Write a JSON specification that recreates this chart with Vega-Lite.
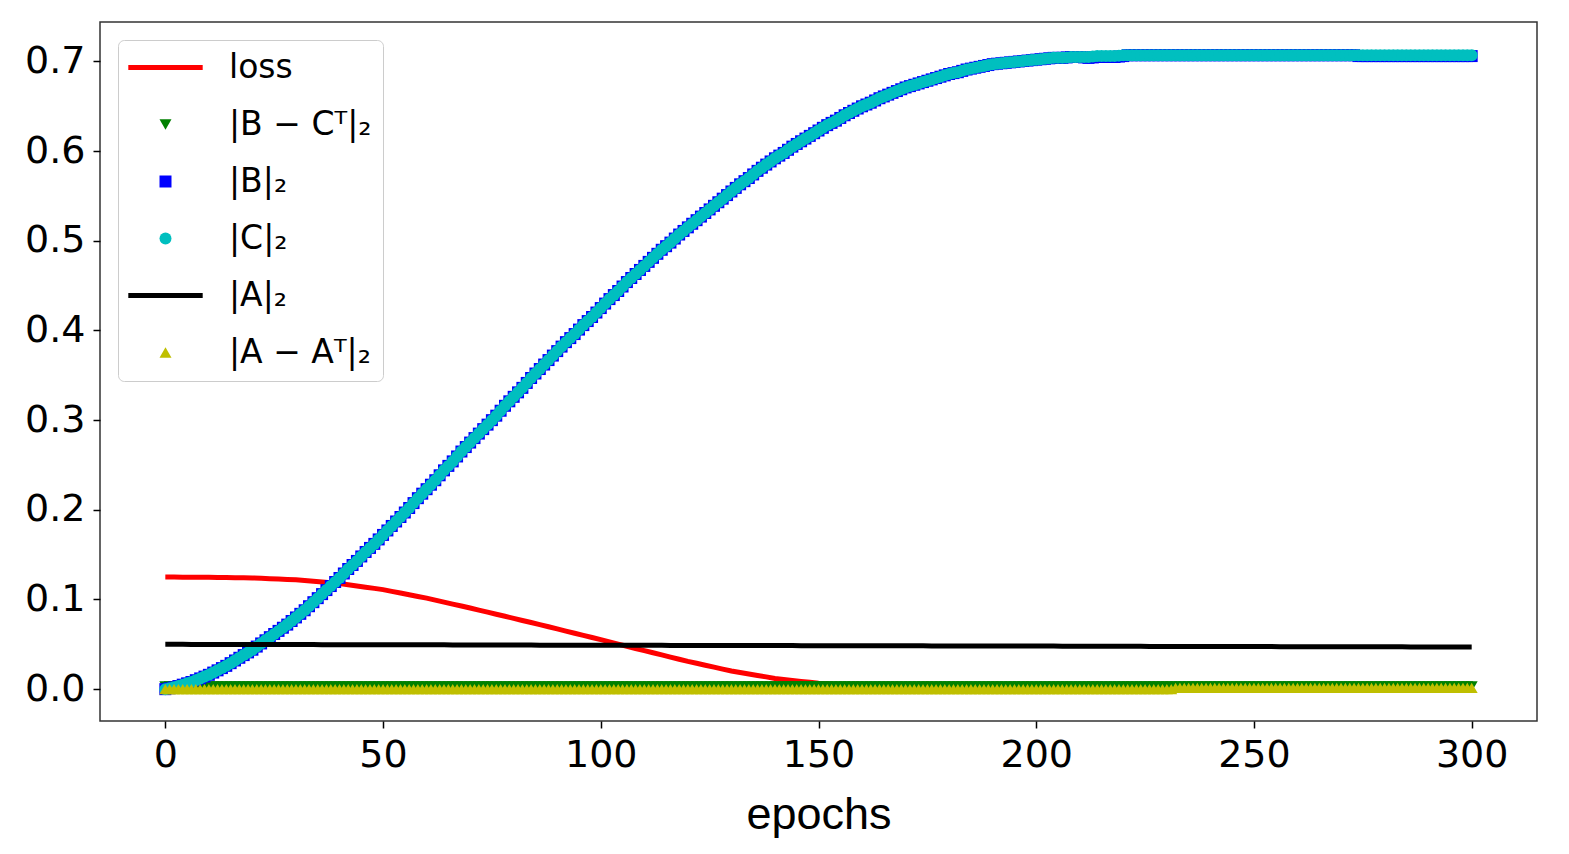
{
  "$schema": "https://vega.github.io/schema/vega-lite/v6.json",
  "width": 1437,
  "height": 699,
  "autosize": "none",
  "padding": {"left": 100, "top": 22, "right": 32, "bottom": 133},
  "config": {
    "view": {"stroke": "#333333", "strokeWidth": 1.5},
    "axis": {
      "grid": false,
      "domain": false,
      "labelFont": "DejaVu Sans",
      "labelFontSize": 38,
      "labelColor": "#000000",
      "tickColor": "#000000",
      "tickSize": 7,
      "tickWidth": 1.5,
      "labelPadding": 8
    },
    "legend": {
      "orient": "top-left",
      "offset": 18,
      "fillColor": "#ffffff",
      "strokeColor": "#cccccc",
      "cornerRadius": 6,
      "padding": 11,
      "labelFont": "DejaVu Sans",
      "labelFontSize": 33,
      "labelColor": "#000000",
      "symbolSize": 144,
      "symbolOffset": 20,
      "labelOffset": 47,
      "rowPadding": 23,
      "symbolStrokeWidth": 0,
      "symbolOpacity": 1
    }
  },
  "datasets": {
    "lines": [
      {"epoch": 0, "loss": 0.125, "norm_a": 0.05},
      {"epoch": 2, "loss": 0.125, "norm_a": 0.05},
      {"epoch": 4, "loss": 0.1249, "norm_a": 0.05},
      {"epoch": 6, "loss": 0.1249, "norm_a": 0.0499},
      {"epoch": 8, "loss": 0.1248, "norm_a": 0.0499},
      {"epoch": 10, "loss": 0.1248, "norm_a": 0.0499},
      {"epoch": 12, "loss": 0.1246, "norm_a": 0.0499},
      {"epoch": 14, "loss": 0.1245, "norm_a": 0.0499},
      {"epoch": 16, "loss": 0.1243, "norm_a": 0.0498},
      {"epoch": 18, "loss": 0.1242, "norm_a": 0.0498},
      {"epoch": 20, "loss": 0.124, "norm_a": 0.0498},
      {"epoch": 22, "loss": 0.1236, "norm_a": 0.0498},
      {"epoch": 24, "loss": 0.1232, "norm_a": 0.0498},
      {"epoch": 26, "loss": 0.1228, "norm_a": 0.0497},
      {"epoch": 28, "loss": 0.1224, "norm_a": 0.0497},
      {"epoch": 30, "loss": 0.122, "norm_a": 0.0497},
      {"epoch": 32, "loss": 0.1212, "norm_a": 0.0497},
      {"epoch": 34, "loss": 0.1203, "norm_a": 0.0497},
      {"epoch": 36, "loss": 0.1195, "norm_a": 0.0496},
      {"epoch": 38, "loss": 0.1186, "norm_a": 0.0496},
      {"epoch": 40, "loss": 0.1178, "norm_a": 0.0496},
      {"epoch": 42, "loss": 0.1164, "norm_a": 0.0496},
      {"epoch": 44, "loss": 0.1151, "norm_a": 0.0496},
      {"epoch": 46, "loss": 0.1137, "norm_a": 0.0495},
      {"epoch": 48, "loss": 0.1124, "norm_a": 0.0495},
      {"epoch": 50, "loss": 0.111, "norm_a": 0.0495},
      {"epoch": 52, "loss": 0.1091, "norm_a": 0.0495},
      {"epoch": 54, "loss": 0.1072, "norm_a": 0.0495},
      {"epoch": 56, "loss": 0.1053, "norm_a": 0.0494},
      {"epoch": 58, "loss": 0.1034, "norm_a": 0.0494},
      {"epoch": 60, "loss": 0.1015, "norm_a": 0.0494},
      {"epoch": 62, "loss": 0.0993, "norm_a": 0.0494},
      {"epoch": 64, "loss": 0.0971, "norm_a": 0.0494},
      {"epoch": 66, "loss": 0.0949, "norm_a": 0.0493},
      {"epoch": 68, "loss": 0.0927, "norm_a": 0.0493},
      {"epoch": 70, "loss": 0.0905, "norm_a": 0.0493},
      {"epoch": 72, "loss": 0.0882, "norm_a": 0.0493},
      {"epoch": 74, "loss": 0.0859, "norm_a": 0.0493},
      {"epoch": 76, "loss": 0.0836, "norm_a": 0.0492},
      {"epoch": 78, "loss": 0.0813, "norm_a": 0.0492},
      {"epoch": 80, "loss": 0.079, "norm_a": 0.0492},
      {"epoch": 82, "loss": 0.0766, "norm_a": 0.0492},
      {"epoch": 84, "loss": 0.0743, "norm_a": 0.0492},
      {"epoch": 86, "loss": 0.0719, "norm_a": 0.0491},
      {"epoch": 88, "loss": 0.0696, "norm_a": 0.0491},
      {"epoch": 90, "loss": 0.0672, "norm_a": 0.0491},
      {"epoch": 92, "loss": 0.0648, "norm_a": 0.0491},
      {"epoch": 94, "loss": 0.0624, "norm_a": 0.0491},
      {"epoch": 96, "loss": 0.06, "norm_a": 0.049},
      {"epoch": 98, "loss": 0.0576, "norm_a": 0.049},
      {"epoch": 100, "loss": 0.0552, "norm_a": 0.049},
      {"epoch": 102, "loss": 0.0528, "norm_a": 0.049},
      {"epoch": 104, "loss": 0.0503, "norm_a": 0.049},
      {"epoch": 106, "loss": 0.0479, "norm_a": 0.0489},
      {"epoch": 108, "loss": 0.0454, "norm_a": 0.0489},
      {"epoch": 110, "loss": 0.043, "norm_a": 0.0489},
      {"epoch": 112, "loss": 0.0406, "norm_a": 0.0489},
      {"epoch": 114, "loss": 0.0382, "norm_a": 0.0489},
      {"epoch": 116, "loss": 0.0358, "norm_a": 0.0488},
      {"epoch": 118, "loss": 0.0334, "norm_a": 0.0488},
      {"epoch": 120, "loss": 0.031, "norm_a": 0.0488},
      {"epoch": 122, "loss": 0.0289, "norm_a": 0.0488},
      {"epoch": 124, "loss": 0.0267, "norm_a": 0.0488},
      {"epoch": 126, "loss": 0.0246, "norm_a": 0.0487},
      {"epoch": 128, "loss": 0.0224, "norm_a": 0.0487},
      {"epoch": 130, "loss": 0.0203, "norm_a": 0.0487},
      {"epoch": 132, "loss": 0.0186, "norm_a": 0.0487},
      {"epoch": 134, "loss": 0.017, "norm_a": 0.0487},
      {"epoch": 136, "loss": 0.0153, "norm_a": 0.0486},
      {"epoch": 138, "loss": 0.0137, "norm_a": 0.0486},
      {"epoch": 140, "loss": 0.012, "norm_a": 0.0486},
      {"epoch": 142, "loss": 0.0109, "norm_a": 0.0486},
      {"epoch": 144, "loss": 0.0098, "norm_a": 0.0486},
      {"epoch": 146, "loss": 0.0087, "norm_a": 0.0485},
      {"epoch": 148, "loss": 0.0076, "norm_a": 0.0485},
      {"epoch": 150, "loss": 0.0065, "norm_a": 0.0485},
      {"epoch": 152, "loss": 0.0058, "norm_a": 0.0485},
      {"epoch": 154, "loss": 0.0051, "norm_a": 0.0485},
      {"epoch": 156, "loss": 0.0044, "norm_a": 0.0484},
      {"epoch": 158, "loss": 0.0037, "norm_a": 0.0484},
      {"epoch": 160, "loss": 0.003, "norm_a": 0.0484},
      {"epoch": 162, "loss": 0.0026, "norm_a": 0.0484},
      {"epoch": 164, "loss": 0.0023, "norm_a": 0.0484},
      {"epoch": 166, "loss": 0.0019, "norm_a": 0.0483},
      {"epoch": 168, "loss": 0.0016, "norm_a": 0.0483},
      {"epoch": 170, "loss": 0.0012, "norm_a": 0.0483},
      {"epoch": 172, "loss": 0.001, "norm_a": 0.0483},
      {"epoch": 174, "loss": 0.0009, "norm_a": 0.0483},
      {"epoch": 176, "loss": 0.0007, "norm_a": 0.0482},
      {"epoch": 178, "loss": 0.0006, "norm_a": 0.0482},
      {"epoch": 180, "loss": 0.0004, "norm_a": 0.0482},
      {"epoch": 182, "loss": 0.0003, "norm_a": 0.0482},
      {"epoch": 184, "loss": 0.0003, "norm_a": 0.0482},
      {"epoch": 186, "loss": 0.0002, "norm_a": 0.0481},
      {"epoch": 188, "loss": 0.0002, "norm_a": 0.0481},
      {"epoch": 190, "loss": 0.0001, "norm_a": 0.0481},
      {"epoch": 192, "loss": 0.0001, "norm_a": 0.0481},
      {"epoch": 194, "loss": 0.0001, "norm_a": 0.0481},
      {"epoch": 196, "loss": 0.0, "norm_a": 0.048},
      {"epoch": 198, "loss": 0.0, "norm_a": 0.048},
      {"epoch": 200, "loss": 0.0, "norm_a": 0.048},
      {"epoch": 202, "loss": 0.0, "norm_a": 0.048},
      {"epoch": 204, "loss": 0.0, "norm_a": 0.048},
      {"epoch": 206, "loss": 0.0, "norm_a": 0.0479},
      {"epoch": 208, "loss": 0.0, "norm_a": 0.0479},
      {"epoch": 210, "loss": 0.0, "norm_a": 0.0479},
      {"epoch": 212, "loss": 0.0, "norm_a": 0.0479},
      {"epoch": 214, "loss": 0.0, "norm_a": 0.0479},
      {"epoch": 216, "loss": 0.0, "norm_a": 0.0478},
      {"epoch": 218, "loss": 0.0, "norm_a": 0.0478},
      {"epoch": 220, "loss": 0.0, "norm_a": 0.0478},
      {"epoch": 222, "loss": 0.0, "norm_a": 0.0478},
      {"epoch": 224, "loss": 0.0, "norm_a": 0.0478},
      {"epoch": 226, "loss": 0.0, "norm_a": 0.0477},
      {"epoch": 228, "loss": 0.0, "norm_a": 0.0477},
      {"epoch": 230, "loss": 0.0, "norm_a": 0.0477},
      {"epoch": 232, "loss": 0.0, "norm_a": 0.0477},
      {"epoch": 234, "loss": 0.0, "norm_a": 0.0477},
      {"epoch": 236, "loss": 0.0, "norm_a": 0.0476},
      {"epoch": 238, "loss": 0.0, "norm_a": 0.0476},
      {"epoch": 240, "loss": 0.0, "norm_a": 0.0476},
      {"epoch": 242, "loss": 0.0, "norm_a": 0.0476},
      {"epoch": 244, "loss": 0.0, "norm_a": 0.0476},
      {"epoch": 246, "loss": 0.0, "norm_a": 0.0475},
      {"epoch": 248, "loss": 0.0, "norm_a": 0.0475},
      {"epoch": 250, "loss": 0.0, "norm_a": 0.0475},
      {"epoch": 252, "loss": 0.0, "norm_a": 0.0475},
      {"epoch": 254, "loss": 0.0, "norm_a": 0.0475},
      {"epoch": 256, "loss": 0.0, "norm_a": 0.0474},
      {"epoch": 258, "loss": 0.0, "norm_a": 0.0474},
      {"epoch": 260, "loss": 0.0, "norm_a": 0.0474},
      {"epoch": 262, "loss": 0.0, "norm_a": 0.0474},
      {"epoch": 264, "loss": 0.0, "norm_a": 0.0474},
      {"epoch": 266, "loss": 0.0, "norm_a": 0.0473},
      {"epoch": 268, "loss": 0.0, "norm_a": 0.0473},
      {"epoch": 270, "loss": 0.0, "norm_a": 0.0473},
      {"epoch": 272, "loss": 0.0, "norm_a": 0.0473},
      {"epoch": 274, "loss": 0.0, "norm_a": 0.0473},
      {"epoch": 276, "loss": 0.0, "norm_a": 0.0472},
      {"epoch": 278, "loss": 0.0, "norm_a": 0.0472},
      {"epoch": 280, "loss": 0.0, "norm_a": 0.0472},
      {"epoch": 282, "loss": 0.0, "norm_a": 0.0472},
      {"epoch": 284, "loss": 0.0, "norm_a": 0.0472},
      {"epoch": 286, "loss": 0.0, "norm_a": 0.0471},
      {"epoch": 288, "loss": 0.0, "norm_a": 0.0471},
      {"epoch": 290, "loss": 0.0, "norm_a": 0.0471},
      {"epoch": 292, "loss": 0.0, "norm_a": 0.0471},
      {"epoch": 294, "loss": 0.0, "norm_a": 0.0471},
      {"epoch": 296, "loss": 0.0, "norm_a": 0.047},
      {"epoch": 298, "loss": 0.0, "norm_a": 0.047},
      {"epoch": 300, "loss": 0.0, "norm_a": 0.047}
    ],
    "points": [
      {"epoch": 0, "diff_bc": 0.003, "norm_b": 0.0, "norm_c": 0.0, "diff_a": 0},
      {"epoch": 1, "diff_bc": 0.003, "norm_b": 0.001, "norm_c": 0.001, "diff_a": 0},
      {"epoch": 2, "diff_bc": 0.003, "norm_b": 0.002, "norm_c": 0.002, "diff_a": 0},
      {"epoch": 3, "diff_bc": 0.003, "norm_b": 0.0035, "norm_c": 0.0035, "diff_a": 0},
      {"epoch": 4, "diff_bc": 0.003, "norm_b": 0.005, "norm_c": 0.005, "diff_a": 0},
      {"epoch": 5, "diff_bc": 0.003, "norm_b": 0.0065, "norm_c": 0.0065, "diff_a": 0},
      {"epoch": 6, "diff_bc": 0.003, "norm_b": 0.008, "norm_c": 0.008, "diff_a": 0},
      {"epoch": 7, "diff_bc": 0.003, "norm_b": 0.01, "norm_c": 0.01, "diff_a": 0},
      {"epoch": 8, "diff_bc": 0.003, "norm_b": 0.012, "norm_c": 0.012, "diff_a": 0},
      {"epoch": 9, "diff_bc": 0.003, "norm_b": 0.014, "norm_c": 0.014, "diff_a": 0},
      {"epoch": 10, "diff_bc": 0.003, "norm_b": 0.016, "norm_c": 0.016, "diff_a": 0},
      {"epoch": 11, "diff_bc": 0.003, "norm_b": 0.0185, "norm_c": 0.0185, "diff_a": 0},
      {"epoch": 12, "diff_bc": 0.003, "norm_b": 0.021, "norm_c": 0.021, "diff_a": 0},
      {"epoch": 13, "diff_bc": 0.003, "norm_b": 0.0235, "norm_c": 0.0235, "diff_a": 0},
      {"epoch": 14, "diff_bc": 0.003, "norm_b": 0.026, "norm_c": 0.026, "diff_a": 0},
      {"epoch": 15, "diff_bc": 0.003, "norm_b": 0.029, "norm_c": 0.029, "diff_a": 0},
      {"epoch": 16, "diff_bc": 0.003, "norm_b": 0.032, "norm_c": 0.032, "diff_a": 0},
      {"epoch": 17, "diff_bc": 0.003, "norm_b": 0.035, "norm_c": 0.035, "diff_a": 0},
      {"epoch": 18, "diff_bc": 0.003, "norm_b": 0.038, "norm_c": 0.038, "diff_a": 0},
      {"epoch": 19, "diff_bc": 0.003, "norm_b": 0.041, "norm_c": 0.041, "diff_a": 0},
      {"epoch": 20, "diff_bc": 0.003, "norm_b": 0.044, "norm_c": 0.044, "diff_a": 0},
      {"epoch": 21, "diff_bc": 0.003, "norm_b": 0.0475, "norm_c": 0.0475, "diff_a": 0},
      {"epoch": 22, "diff_bc": 0.003, "norm_b": 0.051, "norm_c": 0.051, "diff_a": 0},
      {"epoch": 23, "diff_bc": 0.003, "norm_b": 0.0545, "norm_c": 0.0545, "diff_a": 0},
      {"epoch": 24, "diff_bc": 0.003, "norm_b": 0.058, "norm_c": 0.058, "diff_a": 0},
      {"epoch": 25, "diff_bc": 0.003, "norm_b": 0.0615, "norm_c": 0.0615, "diff_a": 0},
      {"epoch": 26, "diff_bc": 0.003, "norm_b": 0.065, "norm_c": 0.065, "diff_a": 0},
      {"epoch": 27, "diff_bc": 0.003, "norm_b": 0.0685, "norm_c": 0.0685, "diff_a": 0},
      {"epoch": 28, "diff_bc": 0.003, "norm_b": 0.072, "norm_c": 0.072, "diff_a": 0},
      {"epoch": 29, "diff_bc": 0.003, "norm_b": 0.076, "norm_c": 0.076, "diff_a": 0},
      {"epoch": 30, "diff_bc": 0.003, "norm_b": 0.08, "norm_c": 0.08, "diff_a": 0},
      {"epoch": 31, "diff_bc": 0.003, "norm_b": 0.084, "norm_c": 0.084, "diff_a": 0},
      {"epoch": 32, "diff_bc": 0.003, "norm_b": 0.088, "norm_c": 0.088, "diff_a": 0},
      {"epoch": 33, "diff_bc": 0.003, "norm_b": 0.0925, "norm_c": 0.0925, "diff_a": 0},
      {"epoch": 34, "diff_bc": 0.003, "norm_b": 0.097, "norm_c": 0.097, "diff_a": 0},
      {"epoch": 35, "diff_bc": 0.003, "norm_b": 0.1015, "norm_c": 0.1015, "diff_a": 0},
      {"epoch": 36, "diff_bc": 0.003, "norm_b": 0.106, "norm_c": 0.106, "diff_a": 0},
      {"epoch": 37, "diff_bc": 0.003, "norm_b": 0.1105, "norm_c": 0.1105, "diff_a": 0},
      {"epoch": 38, "diff_bc": 0.003, "norm_b": 0.115, "norm_c": 0.115, "diff_a": 0},
      {"epoch": 39, "diff_bc": 0.003, "norm_b": 0.1195, "norm_c": 0.1195, "diff_a": 0},
      {"epoch": 40, "diff_bc": 0.003, "norm_b": 0.124, "norm_c": 0.124, "diff_a": 0},
      {"epoch": 41, "diff_bc": 0.003, "norm_b": 0.129, "norm_c": 0.129, "diff_a": 0},
      {"epoch": 42, "diff_bc": 0.003, "norm_b": 0.134, "norm_c": 0.134, "diff_a": 0},
      {"epoch": 43, "diff_bc": 0.003, "norm_b": 0.1385, "norm_c": 0.1385, "diff_a": 0},
      {"epoch": 44, "diff_bc": 0.003, "norm_b": 0.143, "norm_c": 0.143, "diff_a": 0},
      {"epoch": 45, "diff_bc": 0.003, "norm_b": 0.148, "norm_c": 0.148, "diff_a": 0},
      {"epoch": 46, "diff_bc": 0.003, "norm_b": 0.153, "norm_c": 0.153, "diff_a": 0},
      {"epoch": 47, "diff_bc": 0.003, "norm_b": 0.1575, "norm_c": 0.1575, "diff_a": 0},
      {"epoch": 48, "diff_bc": 0.003, "norm_b": 0.162, "norm_c": 0.162, "diff_a": 0},
      {"epoch": 49, "diff_bc": 0.003, "norm_b": 0.167, "norm_c": 0.167, "diff_a": 0},
      {"epoch": 50, "diff_bc": 0.003, "norm_b": 0.172, "norm_c": 0.172, "diff_a": 0},
      {"epoch": 51, "diff_bc": 0.003, "norm_b": 0.177, "norm_c": 0.177, "diff_a": 0},
      {"epoch": 52, "diff_bc": 0.003, "norm_b": 0.182, "norm_c": 0.182, "diff_a": 0},
      {"epoch": 53, "diff_bc": 0.003, "norm_b": 0.187, "norm_c": 0.187, "diff_a": 0},
      {"epoch": 54, "diff_bc": 0.003, "norm_b": 0.192, "norm_c": 0.192, "diff_a": 0},
      {"epoch": 55, "diff_bc": 0.003, "norm_b": 0.197, "norm_c": 0.197, "diff_a": 0},
      {"epoch": 56, "diff_bc": 0.003, "norm_b": 0.202, "norm_c": 0.202, "diff_a": 0},
      {"epoch": 57, "diff_bc": 0.003, "norm_b": 0.2075, "norm_c": 0.2075, "diff_a": 0},
      {"epoch": 58, "diff_bc": 0.003, "norm_b": 0.213, "norm_c": 0.213, "diff_a": 0},
      {"epoch": 59, "diff_bc": 0.003, "norm_b": 0.218, "norm_c": 0.218, "diff_a": 0},
      {"epoch": 60, "diff_bc": 0.003, "norm_b": 0.223, "norm_c": 0.223, "diff_a": 0},
      {"epoch": 61, "diff_bc": 0.003, "norm_b": 0.228, "norm_c": 0.228, "diff_a": 0},
      {"epoch": 62, "diff_bc": 0.003, "norm_b": 0.233, "norm_c": 0.233, "diff_a": 0},
      {"epoch": 63, "diff_bc": 0.003, "norm_b": 0.2385, "norm_c": 0.2385, "diff_a": 0},
      {"epoch": 64, "diff_bc": 0.003, "norm_b": 0.244, "norm_c": 0.244, "diff_a": 0},
      {"epoch": 65, "diff_bc": 0.003, "norm_b": 0.249, "norm_c": 0.249, "diff_a": 0},
      {"epoch": 66, "diff_bc": 0.003, "norm_b": 0.254, "norm_c": 0.254, "diff_a": 0},
      {"epoch": 67, "diff_bc": 0.003, "norm_b": 0.2595, "norm_c": 0.2595, "diff_a": 0},
      {"epoch": 68, "diff_bc": 0.003, "norm_b": 0.265, "norm_c": 0.265, "diff_a": 0},
      {"epoch": 69, "diff_bc": 0.003, "norm_b": 0.27, "norm_c": 0.27, "diff_a": 0},
      {"epoch": 70, "diff_bc": 0.003, "norm_b": 0.275, "norm_c": 0.275, "diff_a": 0},
      {"epoch": 71, "diff_bc": 0.003, "norm_b": 0.28, "norm_c": 0.28, "diff_a": 0},
      {"epoch": 72, "diff_bc": 0.003, "norm_b": 0.285, "norm_c": 0.285, "diff_a": 0},
      {"epoch": 73, "diff_bc": 0.003, "norm_b": 0.29, "norm_c": 0.29, "diff_a": 0},
      {"epoch": 74, "diff_bc": 0.003, "norm_b": 0.295, "norm_c": 0.295, "diff_a": 0},
      {"epoch": 75, "diff_bc": 0.003, "norm_b": 0.3, "norm_c": 0.3, "diff_a": 0},
      {"epoch": 76, "diff_bc": 0.003, "norm_b": 0.305, "norm_c": 0.305, "diff_a": 0},
      {"epoch": 77, "diff_bc": 0.003, "norm_b": 0.3105, "norm_c": 0.3105, "diff_a": 0},
      {"epoch": 78, "diff_bc": 0.003, "norm_b": 0.316, "norm_c": 0.316, "diff_a": 0},
      {"epoch": 79, "diff_bc": 0.003, "norm_b": 0.321, "norm_c": 0.321, "diff_a": 0},
      {"epoch": 80, "diff_bc": 0.003, "norm_b": 0.326, "norm_c": 0.326, "diff_a": 0},
      {"epoch": 81, "diff_bc": 0.003, "norm_b": 0.331, "norm_c": 0.331, "diff_a": 0},
      {"epoch": 82, "diff_bc": 0.003, "norm_b": 0.336, "norm_c": 0.336, "diff_a": 0},
      {"epoch": 83, "diff_bc": 0.003, "norm_b": 0.3415, "norm_c": 0.3415, "diff_a": 0},
      {"epoch": 84, "diff_bc": 0.003, "norm_b": 0.347, "norm_c": 0.347, "diff_a": 0},
      {"epoch": 85, "diff_bc": 0.003, "norm_b": 0.352, "norm_c": 0.352, "diff_a": 0},
      {"epoch": 86, "diff_bc": 0.003, "norm_b": 0.357, "norm_c": 0.357, "diff_a": 0},
      {"epoch": 87, "diff_bc": 0.003, "norm_b": 0.362, "norm_c": 0.362, "diff_a": 0},
      {"epoch": 88, "diff_bc": 0.003, "norm_b": 0.367, "norm_c": 0.367, "diff_a": 0},
      {"epoch": 89, "diff_bc": 0.003, "norm_b": 0.372, "norm_c": 0.372, "diff_a": 0},
      {"epoch": 90, "diff_bc": 0.003, "norm_b": 0.377, "norm_c": 0.377, "diff_a": 0},
      {"epoch": 91, "diff_bc": 0.003, "norm_b": 0.382, "norm_c": 0.382, "diff_a": 0},
      {"epoch": 92, "diff_bc": 0.003, "norm_b": 0.387, "norm_c": 0.387, "diff_a": 0},
      {"epoch": 93, "diff_bc": 0.003, "norm_b": 0.3915, "norm_c": 0.3915, "diff_a": 0},
      {"epoch": 94, "diff_bc": 0.003, "norm_b": 0.396, "norm_c": 0.396, "diff_a": 0},
      {"epoch": 95, "diff_bc": 0.003, "norm_b": 0.401, "norm_c": 0.401, "diff_a": 0},
      {"epoch": 96, "diff_bc": 0.003, "norm_b": 0.406, "norm_c": 0.406, "diff_a": 0},
      {"epoch": 97, "diff_bc": 0.003, "norm_b": 0.4105, "norm_c": 0.4105, "diff_a": 0},
      {"epoch": 98, "diff_bc": 0.003, "norm_b": 0.415, "norm_c": 0.415, "diff_a": 0},
      {"epoch": 99, "diff_bc": 0.003, "norm_b": 0.42, "norm_c": 0.42, "diff_a": 0},
      {"epoch": 100, "diff_bc": 0.003, "norm_b": 0.425, "norm_c": 0.425, "diff_a": 0},
      {"epoch": 101, "diff_bc": 0.003, "norm_b": 0.43, "norm_c": 0.43, "diff_a": 0},
      {"epoch": 102, "diff_bc": 0.003, "norm_b": 0.435, "norm_c": 0.435, "diff_a": 0},
      {"epoch": 103, "diff_bc": 0.003, "norm_b": 0.4395, "norm_c": 0.4395, "diff_a": 0},
      {"epoch": 104, "diff_bc": 0.003, "norm_b": 0.444, "norm_c": 0.444, "diff_a": 0},
      {"epoch": 105, "diff_bc": 0.003, "norm_b": 0.449, "norm_c": 0.449, "diff_a": 0},
      {"epoch": 106, "diff_bc": 0.003, "norm_b": 0.454, "norm_c": 0.454, "diff_a": 0},
      {"epoch": 107, "diff_bc": 0.003, "norm_b": 0.4585, "norm_c": 0.4585, "diff_a": 0},
      {"epoch": 108, "diff_bc": 0.003, "norm_b": 0.463, "norm_c": 0.463, "diff_a": 0},
      {"epoch": 109, "diff_bc": 0.003, "norm_b": 0.4675, "norm_c": 0.4675, "diff_a": 0},
      {"epoch": 110, "diff_bc": 0.003, "norm_b": 0.472, "norm_c": 0.472, "diff_a": 0},
      {"epoch": 111, "diff_bc": 0.003, "norm_b": 0.4765, "norm_c": 0.4765, "diff_a": 0},
      {"epoch": 112, "diff_bc": 0.003, "norm_b": 0.481, "norm_c": 0.481, "diff_a": 0},
      {"epoch": 113, "diff_bc": 0.003, "norm_b": 0.4855, "norm_c": 0.4855, "diff_a": 0},
      {"epoch": 114, "diff_bc": 0.003, "norm_b": 0.49, "norm_c": 0.49, "diff_a": 0},
      {"epoch": 115, "diff_bc": 0.003, "norm_b": 0.494, "norm_c": 0.494, "diff_a": 0},
      {"epoch": 116, "diff_bc": 0.003, "norm_b": 0.498, "norm_c": 0.498, "diff_a": 0},
      {"epoch": 117, "diff_bc": 0.003, "norm_b": 0.5025, "norm_c": 0.5025, "diff_a": 0},
      {"epoch": 118, "diff_bc": 0.003, "norm_b": 0.507, "norm_c": 0.507, "diff_a": 0},
      {"epoch": 119, "diff_bc": 0.003, "norm_b": 0.511, "norm_c": 0.511, "diff_a": 0},
      {"epoch": 120, "diff_bc": 0.003, "norm_b": 0.515, "norm_c": 0.515, "diff_a": 0},
      {"epoch": 121, "diff_bc": 0.003, "norm_b": 0.519, "norm_c": 0.519, "diff_a": 0},
      {"epoch": 122, "diff_bc": 0.003, "norm_b": 0.523, "norm_c": 0.523, "diff_a": 0},
      {"epoch": 123, "diff_bc": 0.003, "norm_b": 0.527, "norm_c": 0.527, "diff_a": 0},
      {"epoch": 124, "diff_bc": 0.003, "norm_b": 0.531, "norm_c": 0.531, "diff_a": 0},
      {"epoch": 125, "diff_bc": 0.003, "norm_b": 0.535, "norm_c": 0.535, "diff_a": 0},
      {"epoch": 126, "diff_bc": 0.003, "norm_b": 0.539, "norm_c": 0.539, "diff_a": 0},
      {"epoch": 127, "diff_bc": 0.003, "norm_b": 0.543, "norm_c": 0.543, "diff_a": 0},
      {"epoch": 128, "diff_bc": 0.003, "norm_b": 0.547, "norm_c": 0.547, "diff_a": 0},
      {"epoch": 129, "diff_bc": 0.003, "norm_b": 0.551, "norm_c": 0.551, "diff_a": 0},
      {"epoch": 130, "diff_bc": 0.003, "norm_b": 0.555, "norm_c": 0.555, "diff_a": 0},
      {"epoch": 131, "diff_bc": 0.003, "norm_b": 0.559, "norm_c": 0.559, "diff_a": 0},
      {"epoch": 132, "diff_bc": 0.003, "norm_b": 0.563, "norm_c": 0.563, "diff_a": 0},
      {"epoch": 133, "diff_bc": 0.003, "norm_b": 0.5665, "norm_c": 0.5665, "diff_a": 0},
      {"epoch": 134, "diff_bc": 0.003, "norm_b": 0.57, "norm_c": 0.57, "diff_a": 0},
      {"epoch": 135, "diff_bc": 0.003, "norm_b": 0.574, "norm_c": 0.574, "diff_a": 0},
      {"epoch": 136, "diff_bc": 0.003, "norm_b": 0.578, "norm_c": 0.578, "diff_a": 0},
      {"epoch": 137, "diff_bc": 0.003, "norm_b": 0.5815, "norm_c": 0.5815, "diff_a": 0},
      {"epoch": 138, "diff_bc": 0.003, "norm_b": 0.585, "norm_c": 0.585, "diff_a": 0},
      {"epoch": 139, "diff_bc": 0.003, "norm_b": 0.5885, "norm_c": 0.5885, "diff_a": 0},
      {"epoch": 140, "diff_bc": 0.003, "norm_b": 0.592, "norm_c": 0.592, "diff_a": 0},
      {"epoch": 141, "diff_bc": 0.003, "norm_b": 0.595, "norm_c": 0.595, "diff_a": 0},
      {"epoch": 142, "diff_bc": 0.003, "norm_b": 0.598, "norm_c": 0.598, "diff_a": 0},
      {"epoch": 143, "diff_bc": 0.003, "norm_b": 0.6015, "norm_c": 0.6015, "diff_a": 0},
      {"epoch": 144, "diff_bc": 0.003, "norm_b": 0.605, "norm_c": 0.605, "diff_a": 0},
      {"epoch": 145, "diff_bc": 0.003, "norm_b": 0.608, "norm_c": 0.608, "diff_a": 0},
      {"epoch": 146, "diff_bc": 0.003, "norm_b": 0.611, "norm_c": 0.611, "diff_a": 0},
      {"epoch": 147, "diff_bc": 0.003, "norm_b": 0.614, "norm_c": 0.614, "diff_a": 0},
      {"epoch": 148, "diff_bc": 0.003, "norm_b": 0.617, "norm_c": 0.617, "diff_a": 0},
      {"epoch": 149, "diff_bc": 0.003, "norm_b": 0.62, "norm_c": 0.62, "diff_a": 0},
      {"epoch": 150, "diff_bc": 0.003, "norm_b": 0.623, "norm_c": 0.623, "diff_a": 0},
      {"epoch": 151, "diff_bc": 0.003, "norm_b": 0.626, "norm_c": 0.626, "diff_a": 0},
      {"epoch": 152, "diff_bc": 0.003, "norm_b": 0.629, "norm_c": 0.629, "diff_a": 0},
      {"epoch": 153, "diff_bc": 0.003, "norm_b": 0.6315, "norm_c": 0.6315, "diff_a": 0},
      {"epoch": 154, "diff_bc": 0.003, "norm_b": 0.634, "norm_c": 0.634, "diff_a": 0},
      {"epoch": 155, "diff_bc": 0.003, "norm_b": 0.637, "norm_c": 0.637, "diff_a": 0},
      {"epoch": 156, "diff_bc": 0.003, "norm_b": 0.64, "norm_c": 0.64, "diff_a": 0},
      {"epoch": 157, "diff_bc": 0.003, "norm_b": 0.6425, "norm_c": 0.6425, "diff_a": 0},
      {"epoch": 158, "diff_bc": 0.003, "norm_b": 0.645, "norm_c": 0.645, "diff_a": 0},
      {"epoch": 159, "diff_bc": 0.003, "norm_b": 0.6475, "norm_c": 0.6475, "diff_a": 0},
      {"epoch": 160, "diff_bc": 0.003, "norm_b": 0.65, "norm_c": 0.65, "diff_a": 0},
      {"epoch": 161, "diff_bc": 0.003, "norm_b": 0.652, "norm_c": 0.652, "diff_a": 0},
      {"epoch": 162, "diff_bc": 0.003, "norm_b": 0.654, "norm_c": 0.654, "diff_a": 0},
      {"epoch": 163, "diff_bc": 0.003, "norm_b": 0.6565, "norm_c": 0.6565, "diff_a": 0},
      {"epoch": 164, "diff_bc": 0.003, "norm_b": 0.659, "norm_c": 0.659, "diff_a": 0},
      {"epoch": 165, "diff_bc": 0.003, "norm_b": 0.661, "norm_c": 0.661, "diff_a": 0},
      {"epoch": 166, "diff_bc": 0.003, "norm_b": 0.663, "norm_c": 0.663, "diff_a": 0},
      {"epoch": 167, "diff_bc": 0.003, "norm_b": 0.665, "norm_c": 0.665, "diff_a": 0},
      {"epoch": 168, "diff_bc": 0.003, "norm_b": 0.667, "norm_c": 0.667, "diff_a": 0},
      {"epoch": 169, "diff_bc": 0.003, "norm_b": 0.669, "norm_c": 0.669, "diff_a": 0},
      {"epoch": 170, "diff_bc": 0.003, "norm_b": 0.671, "norm_c": 0.671, "diff_a": 0},
      {"epoch": 171, "diff_bc": 0.003, "norm_b": 0.6725, "norm_c": 0.6725, "diff_a": 0},
      {"epoch": 172, "diff_bc": 0.003, "norm_b": 0.674, "norm_c": 0.674, "diff_a": 0},
      {"epoch": 173, "diff_bc": 0.003, "norm_b": 0.6755, "norm_c": 0.6755, "diff_a": 0},
      {"epoch": 174, "diff_bc": 0.003, "norm_b": 0.677, "norm_c": 0.677, "diff_a": 0},
      {"epoch": 175, "diff_bc": 0.003, "norm_b": 0.6785, "norm_c": 0.6785, "diff_a": 0},
      {"epoch": 176, "diff_bc": 0.003, "norm_b": 0.68, "norm_c": 0.68, "diff_a": 0},
      {"epoch": 177, "diff_bc": 0.003, "norm_b": 0.6815, "norm_c": 0.6815, "diff_a": 0},
      {"epoch": 178, "diff_bc": 0.003, "norm_b": 0.683, "norm_c": 0.683, "diff_a": 0},
      {"epoch": 179, "diff_bc": 0.003, "norm_b": 0.6845, "norm_c": 0.6845, "diff_a": 0},
      {"epoch": 180, "diff_bc": 0.003, "norm_b": 0.686, "norm_c": 0.686, "diff_a": 0},
      {"epoch": 181, "diff_bc": 0.003, "norm_b": 0.687, "norm_c": 0.687, "diff_a": 0},
      {"epoch": 182, "diff_bc": 0.003, "norm_b": 0.688, "norm_c": 0.688, "diff_a": 0},
      {"epoch": 183, "diff_bc": 0.003, "norm_b": 0.6895, "norm_c": 0.6895, "diff_a": 0},
      {"epoch": 184, "diff_bc": 0.003, "norm_b": 0.691, "norm_c": 0.691, "diff_a": 0},
      {"epoch": 185, "diff_bc": 0.003, "norm_b": 0.692, "norm_c": 0.692, "diff_a": 0},
      {"epoch": 186, "diff_bc": 0.003, "norm_b": 0.693, "norm_c": 0.693, "diff_a": 0},
      {"epoch": 187, "diff_bc": 0.003, "norm_b": 0.694, "norm_c": 0.694, "diff_a": 0},
      {"epoch": 188, "diff_bc": 0.003, "norm_b": 0.695, "norm_c": 0.695, "diff_a": 0},
      {"epoch": 189, "diff_bc": 0.003, "norm_b": 0.696, "norm_c": 0.696, "diff_a": 0},
      {"epoch": 190, "diff_bc": 0.003, "norm_b": 0.697, "norm_c": 0.697, "diff_a": 0},
      {"epoch": 191, "diff_bc": 0.003, "norm_b": 0.6975, "norm_c": 0.6975, "diff_a": 0},
      {"epoch": 192, "diff_bc": 0.003, "norm_b": 0.698, "norm_c": 0.698, "diff_a": 0},
      {"epoch": 193, "diff_bc": 0.003, "norm_b": 0.6985, "norm_c": 0.6985, "diff_a": 0},
      {"epoch": 194, "diff_bc": 0.003, "norm_b": 0.699, "norm_c": 0.699, "diff_a": 0},
      {"epoch": 195, "diff_bc": 0.003, "norm_b": 0.6995, "norm_c": 0.6995, "diff_a": 0},
      {"epoch": 196, "diff_bc": 0.003, "norm_b": 0.7, "norm_c": 0.7, "diff_a": 0},
      {"epoch": 197, "diff_bc": 0.003, "norm_b": 0.7005, "norm_c": 0.7005, "diff_a": 0},
      {"epoch": 198, "diff_bc": 0.003, "norm_b": 0.701, "norm_c": 0.701, "diff_a": 0},
      {"epoch": 199, "diff_bc": 0.003, "norm_b": 0.7015, "norm_c": 0.7015, "diff_a": 0},
      {"epoch": 200, "diff_bc": 0.003, "norm_b": 0.702, "norm_c": 0.702, "diff_a": 0},
      {"epoch": 201, "diff_bc": 0.003, "norm_b": 0.7025, "norm_c": 0.7025, "diff_a": 0},
      {"epoch": 202, "diff_bc": 0.003, "norm_b": 0.703, "norm_c": 0.703, "diff_a": 0},
      {"epoch": 203, "diff_bc": 0.003, "norm_b": 0.7035, "norm_c": 0.7035, "diff_a": 0},
      {"epoch": 204, "diff_bc": 0.003, "norm_b": 0.704, "norm_c": 0.704, "diff_a": 0},
      {"epoch": 205, "diff_bc": 0.003, "norm_b": 0.704, "norm_c": 0.704, "diff_a": 0},
      {"epoch": 206, "diff_bc": 0.003, "norm_b": 0.704, "norm_c": 0.704, "diff_a": 0},
      {"epoch": 207, "diff_bc": 0.003, "norm_b": 0.7045, "norm_c": 0.7045, "diff_a": 0},
      {"epoch": 208, "diff_bc": 0.003, "norm_b": 0.705, "norm_c": 0.705, "diff_a": 0},
      {"epoch": 209, "diff_bc": 0.003, "norm_b": 0.705, "norm_c": 0.705, "diff_a": 0},
      {"epoch": 210, "diff_bc": 0.003, "norm_b": 0.705, "norm_c": 0.705, "diff_a": 0},
      {"epoch": 211, "diff_bc": 0.003, "norm_b": 0.7045, "norm_c": 0.705, "diff_a": 0},
      {"epoch": 212, "diff_bc": 0.003, "norm_b": 0.704, "norm_c": 0.705, "diff_a": 0},
      {"epoch": 213, "diff_bc": 0.003, "norm_b": 0.7045, "norm_c": 0.7055, "diff_a": 0},
      {"epoch": 214, "diff_bc": 0.003, "norm_b": 0.705, "norm_c": 0.706, "diff_a": 0},
      {"epoch": 215, "diff_bc": 0.003, "norm_b": 0.705, "norm_c": 0.706, "diff_a": 0},
      {"epoch": 216, "diff_bc": 0.003, "norm_b": 0.705, "norm_c": 0.706, "diff_a": 0},
      {"epoch": 217, "diff_bc": 0.003, "norm_b": 0.705, "norm_c": 0.706, "diff_a": 0},
      {"epoch": 218, "diff_bc": 0.003, "norm_b": 0.705, "norm_c": 0.706, "diff_a": 0},
      {"epoch": 219, "diff_bc": 0.003, "norm_b": 0.7055, "norm_c": 0.7065, "diff_a": 0},
      {"epoch": 220, "diff_bc": 0.003, "norm_b": 0.706, "norm_c": 0.707, "diff_a": 0},
      {"epoch": 221, "diff_bc": 0.003, "norm_b": 0.707, "norm_c": 0.707, "diff_a": 0},
      {"epoch": 222, "diff_bc": 0.003, "norm_b": 0.707, "norm_c": 0.707, "diff_a": 0},
      {"epoch": 223, "diff_bc": 0.003, "norm_b": 0.707, "norm_c": 0.707, "diff_a": 0},
      {"epoch": 224, "diff_bc": 0.003, "norm_b": 0.707, "norm_c": 0.707, "diff_a": 0},
      {"epoch": 225, "diff_bc": 0.003, "norm_b": 0.707, "norm_c": 0.707, "diff_a": 0},
      {"epoch": 226, "diff_bc": 0.003, "norm_b": 0.707, "norm_c": 0.707, "diff_a": 0},
      {"epoch": 227, "diff_bc": 0.003, "norm_b": 0.707, "norm_c": 0.707, "diff_a": 0},
      {"epoch": 228, "diff_bc": 0.003, "norm_b": 0.707, "norm_c": 0.707, "diff_a": 0},
      {"epoch": 229, "diff_bc": 0.003, "norm_b": 0.707, "norm_c": 0.707, "diff_a": 0},
      {"epoch": 230, "diff_bc": 0.003, "norm_b": 0.707, "norm_c": 0.707, "diff_a": 0},
      {"epoch": 231, "diff_bc": 0.003, "norm_b": 0.707, "norm_c": 0.707, "diff_a": 0},
      {"epoch": 232, "diff_bc": 0.003, "norm_b": 0.707, "norm_c": 0.707, "diff_a": 0.0015},
      {"epoch": 233, "diff_bc": 0.003, "norm_b": 0.707, "norm_c": 0.707, "diff_a": 0.0015},
      {"epoch": 234, "diff_bc": 0.003, "norm_b": 0.707, "norm_c": 0.707, "diff_a": 0.0015},
      {"epoch": 235, "diff_bc": 0.003, "norm_b": 0.707, "norm_c": 0.707, "diff_a": 0.0015},
      {"epoch": 236, "diff_bc": 0.003, "norm_b": 0.707, "norm_c": 0.707, "diff_a": 0.0015},
      {"epoch": 237, "diff_bc": 0.003, "norm_b": 0.707, "norm_c": 0.707, "diff_a": 0.0015},
      {"epoch": 238, "diff_bc": 0.003, "norm_b": 0.707, "norm_c": 0.707, "diff_a": 0.0015},
      {"epoch": 239, "diff_bc": 0.003, "norm_b": 0.707, "norm_c": 0.707, "diff_a": 0.0015},
      {"epoch": 240, "diff_bc": 0.003, "norm_b": 0.707, "norm_c": 0.707, "diff_a": 0.0015},
      {"epoch": 241, "diff_bc": 0.003, "norm_b": 0.707, "norm_c": 0.707, "diff_a": 0.0015},
      {"epoch": 242, "diff_bc": 0.003, "norm_b": 0.707, "norm_c": 0.707, "diff_a": 0.0015},
      {"epoch": 243, "diff_bc": 0.003, "norm_b": 0.707, "norm_c": 0.707, "diff_a": 0.0015},
      {"epoch": 244, "diff_bc": 0.003, "norm_b": 0.707, "norm_c": 0.707, "diff_a": 0.0015},
      {"epoch": 245, "diff_bc": 0.003, "norm_b": 0.707, "norm_c": 0.707, "diff_a": 0.0015},
      {"epoch": 246, "diff_bc": 0.003, "norm_b": 0.707, "norm_c": 0.707, "diff_a": 0.0015},
      {"epoch": 247, "diff_bc": 0.003, "norm_b": 0.707, "norm_c": 0.707, "diff_a": 0.0015},
      {"epoch": 248, "diff_bc": 0.003, "norm_b": 0.707, "norm_c": 0.707, "diff_a": 0.0015},
      {"epoch": 249, "diff_bc": 0.003, "norm_b": 0.707, "norm_c": 0.707, "diff_a": 0.0015},
      {"epoch": 250, "diff_bc": 0.003, "norm_b": 0.707, "norm_c": 0.707, "diff_a": 0.0015},
      {"epoch": 251, "diff_bc": 0.003, "norm_b": 0.707, "norm_c": 0.707, "diff_a": 0.0015},
      {"epoch": 252, "diff_bc": 0.003, "norm_b": 0.707, "norm_c": 0.707, "diff_a": 0.0015},
      {"epoch": 253, "diff_bc": 0.003, "norm_b": 0.707, "norm_c": 0.707, "diff_a": 0.0015},
      {"epoch": 254, "diff_bc": 0.003, "norm_b": 0.707, "norm_c": 0.707, "diff_a": 0.0015},
      {"epoch": 255, "diff_bc": 0.003, "norm_b": 0.707, "norm_c": 0.707, "diff_a": 0.0015},
      {"epoch": 256, "diff_bc": 0.003, "norm_b": 0.707, "norm_c": 0.707, "diff_a": 0.0015},
      {"epoch": 257, "diff_bc": 0.003, "norm_b": 0.707, "norm_c": 0.707, "diff_a": 0.0015},
      {"epoch": 258, "diff_bc": 0.003, "norm_b": 0.707, "norm_c": 0.707, "diff_a": 0.0015},
      {"epoch": 259, "diff_bc": 0.003, "norm_b": 0.707, "norm_c": 0.707, "diff_a": 0.0015},
      {"epoch": 260, "diff_bc": 0.003, "norm_b": 0.707, "norm_c": 0.707, "diff_a": 0.0015},
      {"epoch": 261, "diff_bc": 0.003, "norm_b": 0.707, "norm_c": 0.707, "diff_a": 0.0015},
      {"epoch": 262, "diff_bc": 0.003, "norm_b": 0.707, "norm_c": 0.707, "diff_a": 0.0015},
      {"epoch": 263, "diff_bc": 0.003, "norm_b": 0.707, "norm_c": 0.707, "diff_a": 0.0015},
      {"epoch": 264, "diff_bc": 0.003, "norm_b": 0.707, "norm_c": 0.707, "diff_a": 0.0015},
      {"epoch": 265, "diff_bc": 0.003, "norm_b": 0.707, "norm_c": 0.707, "diff_a": 0.0015},
      {"epoch": 266, "diff_bc": 0.003, "norm_b": 0.707, "norm_c": 0.707, "diff_a": 0.0015},
      {"epoch": 267, "diff_bc": 0.003, "norm_b": 0.707, "norm_c": 0.707, "diff_a": 0.0015},
      {"epoch": 268, "diff_bc": 0.003, "norm_b": 0.707, "norm_c": 0.707, "diff_a": 0.0015},
      {"epoch": 269, "diff_bc": 0.003, "norm_b": 0.707, "norm_c": 0.707, "diff_a": 0.0015},
      {"epoch": 270, "diff_bc": 0.003, "norm_b": 0.707, "norm_c": 0.707, "diff_a": 0.0015},
      {"epoch": 271, "diff_bc": 0.003, "norm_b": 0.707, "norm_c": 0.707, "diff_a": 0.0015},
      {"epoch": 272, "diff_bc": 0.003, "norm_b": 0.707, "norm_c": 0.707, "diff_a": 0.0015},
      {"epoch": 273, "diff_bc": 0.003, "norm_b": 0.707, "norm_c": 0.707, "diff_a": 0.0015},
      {"epoch": 274, "diff_bc": 0.003, "norm_b": 0.706, "norm_c": 0.707, "diff_a": 0.0015},
      {"epoch": 275, "diff_bc": 0.003, "norm_b": 0.706, "norm_c": 0.707, "diff_a": 0.0015},
      {"epoch": 276, "diff_bc": 0.003, "norm_b": 0.706, "norm_c": 0.707, "diff_a": 0.0015},
      {"epoch": 277, "diff_bc": 0.003, "norm_b": 0.706, "norm_c": 0.707, "diff_a": 0.0015},
      {"epoch": 278, "diff_bc": 0.003, "norm_b": 0.706, "norm_c": 0.707, "diff_a": 0.0015},
      {"epoch": 279, "diff_bc": 0.003, "norm_b": 0.706, "norm_c": 0.707, "diff_a": 0.0015},
      {"epoch": 280, "diff_bc": 0.003, "norm_b": 0.706, "norm_c": 0.707, "diff_a": 0.0015},
      {"epoch": 281, "diff_bc": 0.003, "norm_b": 0.706, "norm_c": 0.707, "diff_a": 0.0015},
      {"epoch": 282, "diff_bc": 0.003, "norm_b": 0.706, "norm_c": 0.707, "diff_a": 0.0015},
      {"epoch": 283, "diff_bc": 0.003, "norm_b": 0.706, "norm_c": 0.707, "diff_a": 0.0015},
      {"epoch": 284, "diff_bc": 0.003, "norm_b": 0.706, "norm_c": 0.707, "diff_a": 0.0015},
      {"epoch": 285, "diff_bc": 0.003, "norm_b": 0.706, "norm_c": 0.707, "diff_a": 0.0015},
      {"epoch": 286, "diff_bc": 0.003, "norm_b": 0.706, "norm_c": 0.707, "diff_a": 0.0015},
      {"epoch": 287, "diff_bc": 0.003, "norm_b": 0.706, "norm_c": 0.707, "diff_a": 0.0015},
      {"epoch": 288, "diff_bc": 0.003, "norm_b": 0.706, "norm_c": 0.707, "diff_a": 0.0015},
      {"epoch": 289, "diff_bc": 0.003, "norm_b": 0.706, "norm_c": 0.707, "diff_a": 0.0015},
      {"epoch": 290, "diff_bc": 0.003, "norm_b": 0.706, "norm_c": 0.707, "diff_a": 0.0015},
      {"epoch": 291, "diff_bc": 0.003, "norm_b": 0.706, "norm_c": 0.707, "diff_a": 0.0015},
      {"epoch": 292, "diff_bc": 0.003, "norm_b": 0.706, "norm_c": 0.707, "diff_a": 0.0015},
      {"epoch": 293, "diff_bc": 0.003, "norm_b": 0.706, "norm_c": 0.707, "diff_a": 0.0015},
      {"epoch": 294, "diff_bc": 0.003, "norm_b": 0.706, "norm_c": 0.707, "diff_a": 0.0015},
      {"epoch": 295, "diff_bc": 0.003, "norm_b": 0.706, "norm_c": 0.707, "diff_a": 0.0015},
      {"epoch": 296, "diff_bc": 0.003, "norm_b": 0.706, "norm_c": 0.707, "diff_a": 0.0015},
      {"epoch": 297, "diff_bc": 0.003, "norm_b": 0.706, "norm_c": 0.707, "diff_a": 0.0015},
      {"epoch": 298, "diff_bc": 0.003, "norm_b": 0.706, "norm_c": 0.707, "diff_a": 0.0015},
      {"epoch": 299, "diff_bc": 0.003, "norm_b": 0.706, "norm_c": 0.707, "diff_a": 0.0015},
      {"epoch": 300, "diff_bc": 0.003, "norm_b": 0.706, "norm_c": 0.707, "diff_a": 0.0015}
    ]
  },
  "encoding": {
    "x": {
      "field": "epoch",
      "type": "quantitative",
      "scale": {"domain": [-15, 315], "nice": false, "zero": false},
      "axis": {
        "values": [0, 50, 100, 150, 200, 250, 300],
        "title": "epochs",
        "titleFont": "Liberation Sans",
        "titleFontSize": 45,
        "titleFontWeight": "normal",
        "titleColor": "#000000",
        "titlePadding": 18
      }
    },
    "y": {
      "field": "value",
      "type": "quantitative",
      "scale": {"domain": [-0.0355, 0.744], "nice": false, "zero": false},
      "axis": {"values": [0, 0.1, 0.2, 0.3, 0.4, 0.5, 0.6, 0.7], "format": ".1f", "title": null}
    }
  },
  "layer": [
    {
      "data": {"name": "lines"},
      "transform": [{"fold": ["loss"], "as": ["series", "value"]}],
      "mark": {"type": "line", "strokeWidth": 5},
      "encoding": {
        "stroke": {
          "field": "series",
          "type": "nominal",
          "scale": {
            "domain": ["loss", "diff_bc", "norm_b", "norm_c", "norm_a", "diff_a"],
            "range": ["#ff0000", "#008000", "#0000ff", "#00bfbf", "#000000", "#bfbf00"]
          },
          "legend": {
            "title": null,
            "labelExpr": "datum.label == 'loss' ? 'loss' : datum.label == 'diff_bc' ? '|B − Cᵀ|₂' : datum.label == 'norm_b' ? '|B|₂' : datum.label == 'norm_c' ? '|C|₂' : datum.label == 'norm_a' ? '|A|₂' : '|A − Aᵀ|₂'"
          }
        }
      }
    },
    {
      "data": {"name": "points"},
      "transform": [{"fold": ["diff_bc", "norm_b", "norm_c"], "as": ["series", "value"]}],
      "mark": {"type": "point", "filled": true, "opacity": 1, "size": 144, "strokeWidth": 0},
      "encoding": {
        "fill": {
          "field": "series",
          "type": "nominal",
          "scale": {
            "domain": ["loss", "diff_bc", "norm_b", "norm_c", "norm_a", "diff_a"],
            "range": ["#ff0000", "#008000", "#0000ff", "#00bfbf", "#000000", "#bfbf00"]
          },
          "legend": {
            "title": null,
            "labelExpr": "datum.label == 'loss' ? 'loss' : datum.label == 'diff_bc' ? '|B − Cᵀ|₂' : datum.label == 'norm_b' ? '|B|₂' : datum.label == 'norm_c' ? '|C|₂' : datum.label == 'norm_a' ? '|A|₂' : '|A − Aᵀ|₂'"
          }
        },
        "shape": {
          "field": "series",
          "type": "nominal",
          "scale": {
            "domain": ["loss", "diff_bc", "norm_b", "norm_c", "norm_a", "diff_a"],
            "range": ["M-6.2,-0.42H6.2V0.42H-6.2Z", "triangle-down", "square", "circle", "M-6.2,-0.42H6.2V0.42H-6.2Z", "triangle-up"]
          },
          "legend": {
            "title": null,
            "labelExpr": "datum.label == 'loss' ? 'loss' : datum.label == 'diff_bc' ? '|B − Cᵀ|₂' : datum.label == 'norm_b' ? '|B|₂' : datum.label == 'norm_c' ? '|C|₂' : datum.label == 'norm_a' ? '|A|₂' : '|A − Aᵀ|₂'"
          }
        },
        "order": {"field": "series"}
      }
    },
    {
      "data": {"name": "lines"},
      "transform": [{"fold": ["norm_a"], "as": ["series", "value"]}],
      "mark": {"type": "line", "strokeWidth": 5},
      "encoding": {
        "stroke": {
          "field": "series",
          "type": "nominal",
          "scale": {
            "domain": ["loss", "diff_bc", "norm_b", "norm_c", "norm_a", "diff_a"],
            "range": ["#ff0000", "#008000", "#0000ff", "#00bfbf", "#000000", "#bfbf00"]
          },
          "legend": {
            "title": null,
            "labelExpr": "datum.label == 'loss' ? 'loss' : datum.label == 'diff_bc' ? '|B − Cᵀ|₂' : datum.label == 'norm_b' ? '|B|₂' : datum.label == 'norm_c' ? '|C|₂' : datum.label == 'norm_a' ? '|A|₂' : '|A − Aᵀ|₂'"
          }
        }
      }
    },
    {
      "data": {"name": "points"},
      "transform": [{"fold": ["diff_a"], "as": ["series", "value"]}],
      "mark": {"type": "point", "filled": true, "opacity": 1, "size": 144, "strokeWidth": 0},
      "encoding": {
        "fill": {
          "field": "series",
          "type": "nominal",
          "scale": {
            "domain": ["loss", "diff_bc", "norm_b", "norm_c", "norm_a", "diff_a"],
            "range": ["#ff0000", "#008000", "#0000ff", "#00bfbf", "#000000", "#bfbf00"]
          },
          "legend": {
            "title": null,
            "labelExpr": "datum.label == 'loss' ? 'loss' : datum.label == 'diff_bc' ? '|B − Cᵀ|₂' : datum.label == 'norm_b' ? '|B|₂' : datum.label == 'norm_c' ? '|C|₂' : datum.label == 'norm_a' ? '|A|₂' : '|A − Aᵀ|₂'"
          }
        },
        "shape": {
          "field": "series",
          "type": "nominal",
          "scale": {
            "domain": ["loss", "diff_bc", "norm_b", "norm_c", "norm_a", "diff_a"],
            "range": ["M-6.2,-0.42H6.2V0.42H-6.2Z", "triangle-down", "square", "circle", "M-6.2,-0.42H6.2V0.42H-6.2Z", "triangle-up"]
          },
          "legend": {
            "title": null,
            "labelExpr": "datum.label == 'loss' ? 'loss' : datum.label == 'diff_bc' ? '|B − Cᵀ|₂' : datum.label == 'norm_b' ? '|B|₂' : datum.label == 'norm_c' ? '|C|₂' : datum.label == 'norm_a' ? '|A|₂' : '|A − Aᵀ|₂'"
          }
        }
      }
    }
  ]
}
